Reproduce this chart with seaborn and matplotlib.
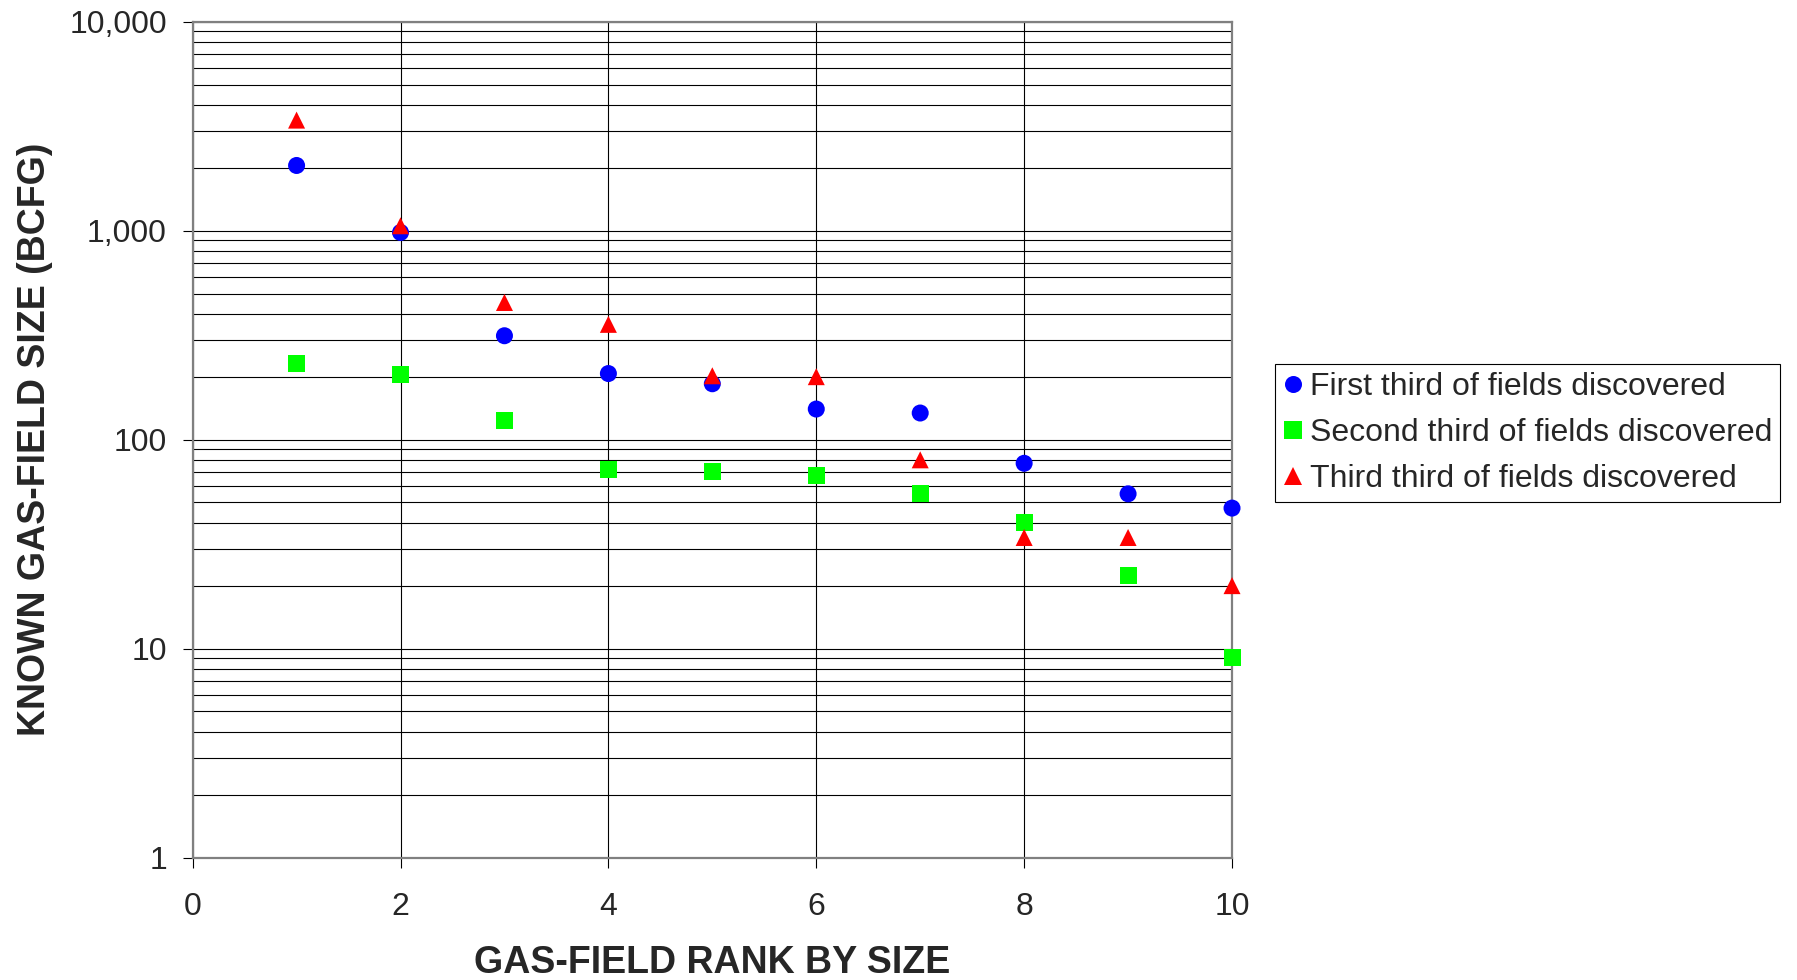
import pandas as pd
import numpy as np
import matplotlib
matplotlib.use('Agg')
import matplotlib.pyplot as plt
import matplotlib.ticker as mticker
import seaborn as sns

# Data
rank = [1, 2, 3, 4, 5, 6, 7, 8, 9, 10]
first_third = [2050, 980, 314, 207, 185, 140, 134, 77, 55, 47]
second_third = [232, 205, 123, 72, 70, 67, 55, 40, 22.4, 9.1]
third_third = [3380, 1055, 453, 356, 202, 200, 80, 34, 34, 20]

series_names = ['First third of fields discovered',
                'Second third of fields discovered',
                'Third third of fields discovered']
series_values = [first_third, second_third, third_third]
colors = ['#0000FF', '#00FF00', '#FF0000']
markers = ['o', 's', '^']

rows = []
for name, vals in zip(series_names, series_values):
    for r, v in zip(rank, vals):
        rows.append({'rank': r, 'size': v, 'series': name})
df = pd.DataFrame(rows)

sns.set_theme(style='white')
plt.rcParams['font.family'] = ['Liberation Sans', 'DejaVu Sans']

fig = plt.figure(figsize=(17.97, 9.80), dpi=100)
ax = fig.add_axes([0.1072, 0.125, 0.6856 - 0.1072, 0.9779 - 0.125])

sns.scatterplot(data=df, x='rank', y='size', hue='series', style='series',
                palette=dict(zip(series_names, colors)),
                markers=dict(zip(series_names, markers)),
                s=150, linewidth=0, ax=ax, zorder=3, clip_on=False)

ax.set_yscale('log')
ax.set_ylim(1, 10000)
ax.set_xlim(0, 10)
ax.set_xticks([0, 2, 4, 6, 8, 10])
ax.yaxis.set_major_locator(mticker.LogLocator(base=10, numticks=10))
ax.yaxis.set_minor_locator(mticker.LogLocator(base=10, subs=np.arange(2, 10), numticks=20))
ax.yaxis.set_major_formatter(mticker.FuncFormatter(lambda v, p: f'{int(round(v)):,}'))
ax.yaxis.set_minor_formatter(mticker.NullFormatter())

ax.grid(True, which='major', axis='both', color='black', linewidth=0.8)
ax.grid(True, which='minor', axis='y', color='black', linewidth=0.8)
ax.set_axisbelow(True)

ax.tick_params(axis='both', which='major', direction='out', length=7.5, width=0.8,
               color='black', labelsize=23, bottom=True, left=True)
ax.tick_params(axis='x', which='major', pad=17)
ax.tick_params(axis='y', which='major', pad=11)
ax.tick_params(axis='y', which='minor', length=0)

for side in ['left', 'right', 'top', 'bottom']:
    ax.spines[side].set_visible(True)
    ax.spines[side].set_color('#808080')
    ax.spines[side].set_linewidth(1.6)

ax.set_xlabel('GAS-FIELD RANK BY SIZE', fontsize=27, fontweight='bold', labelpad=17)
ax.set_ylabel('KNOWN GAS-FIELD SIZE (BCFG)', fontsize=27, fontweight='bold', labelpad=12)

handles, labels = ax.get_legend_handles_labels()
ax.get_legend().remove()
leg = fig.legend(handles, labels, loc='center left', bbox_to_anchor=(0.7095, 0.558),
                 fontsize=23, frameon=True, fancybox=False, shadow=False,
                 edgecolor='black', framealpha=1, borderpad=0.25,
                 handlelength=0.6, handletextpad=0.25, labelspacing=0.5,
                 markerscale=1.0, borderaxespad=0)
leg.get_frame().set_linewidth(0.8)

fig.savefig('out.png', dpi=100)
